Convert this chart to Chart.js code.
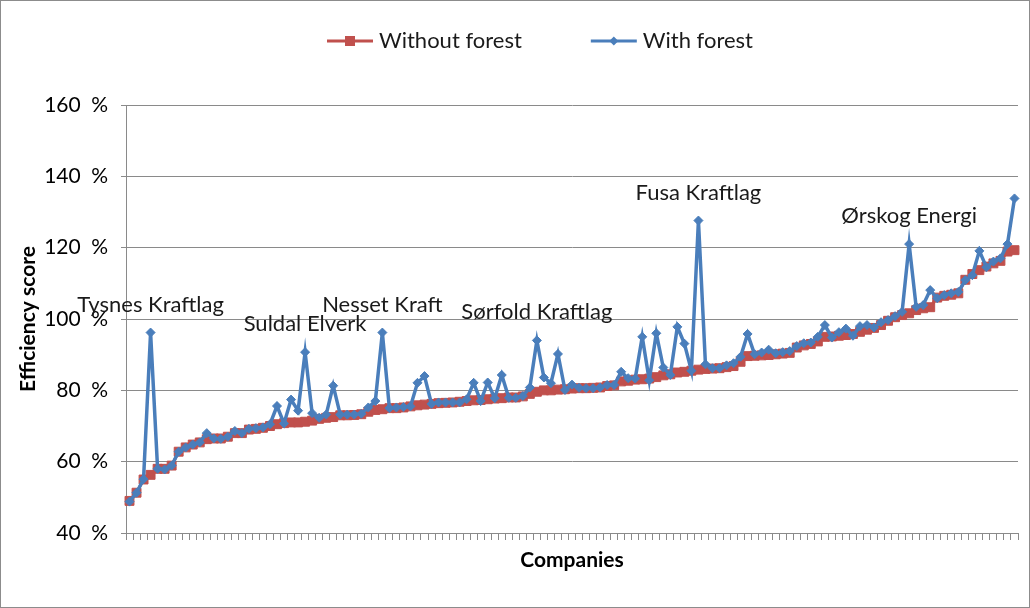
<!DOCTYPE html>
<html>
<head>
<meta charset="utf-8">
<script src="https://cdn.jsdelivr.net/npm/chart.js@4/dist/chart.umd.min.js"></script>
<style>
html,body{margin:0;padding:0;background:#fff;}
#wrap{width:1030px;height:608px;position:relative;}
</style>
</head>
<body>
<div id="wrap"><canvas id="c" width="1030" height="608"></canvas></div>
<script>
const categories = [1,2,3,4,5,6,7,8,9,10,11,12,13,14,15,16,17,18,19,20,21,22,23,24,25,26,27,28,29,30,31,32,33,34,35,36,37,38,39,40,41,42,43,44,45,46,47,48,49,50,51,52,53,54,55,56,57,58,59,60,61,62,63,64,65,66,67,68,69,70,71,72,73,74,75,76,77,78,79,80,81,82,83,84,85,86,87,88,89,90,91,92,93,94,95,96,97,98,99,100,101,102,103,104,105,106,107,108,109,110,111,112,113,114,115,116,117,118,119,120,121,122,123,124,125,126,127];

const withoutForest = [49,51.3,55,56.3,58,58,58.9,62.8,64,64.8,65.4,66.3,66.5,66.5,67,68,68,69,69.2,69.5,
70,70.5,70.8,71,71,71.2,71.5,72,72.3,72.5,73,73,73.1,73.3,74,74.5,74.7,75,75,75.2,
75.5,75.8,76,76.2,76.4,76.5,76.6,76.8,77,77.2,77.3,77.5,77.7,77.8,78,78,78.3,79,79.6,80,
80,80.2,80.3,80.5,80.6,80.6,80.7,80.8,81.2,81.4,82.5,82.7,83,83.1,83.3,83.7,84.2,84.5,85,85.2,
85.5,85.8,86,86.1,86.2,86.5,86.8,88,89.6,89.7,89.8,89.9,90.1,90.3,90.5,92,92.6,93,93.7,95,
95.1,95.3,95.5,95.8,96.4,97,97.5,98.3,99.5,100.5,101.1,101.6,102.5,103,103.3,106,106.5,106.8,107.2,111,
112.6,113.7,114.7,115.6,116.3,118.9,119.3];

const withForest = [48.8,51.3,55.1,96.2,58,57.8,58.9,62.8,64,64.8,65.4,68,66.5,66.4,67,68.6,68,69.2,69.4,69.6,
70.5,75.6,70.7,77.4,74.3,90.7,73.6,72.3,73.2,81.3,73.2,73.2,73.2,73.4,75.2,77,96.2,75,75.2,75.3,
75.5,82.1,84,76.2,76.6,76.6,76.6,76.6,77.5,82.1,77,82.2,77.8,84.3,77.9,77.9,78.4,80.8,94,83.6,
82,90.2,80.1,81.6,80.7,80.6,80.6,80.8,81.5,81.5,85.2,83.4,83.3,95,82.8,96,86.4,84.3,97.8,93.1,
85.5,127.6,87.3,86.2,86.2,87,87.6,89.4,95.8,90.1,90.6,91.4,90.4,90.7,91,92.4,93.2,93.4,95,98.3,
94.8,96.3,97.3,95.3,98,98.3,97.6,99.1,99.7,100.8,102,121,103.4,103.9,108.1,105.8,106.7,107.2,107.6,110.9,
112.3,119.1,114.5,116.1,117,121,133.8];

const yTickValues = [40,60,80,100,120,140,160];
const annotationIndex = [3,25,36,58,81,111];
const annotationText = ["Tysnes Kraftlag","Suldal Elverk","Nesset Kraft","Sørfold Kraftlag","Fusa Kraftlag","Ørskog Energi"];

const RED = '#C0504D';
const BLUE = '#4A7EBB';
const GRID = '#8A8A8A';
const FONT = 'Lato, "Open Sans", sans-serif';

const decor = {
  id: 'decor',
  beforeDraw(chart) {
    const ctx = chart.ctx;
    ctx.save();
    ctx.fillStyle = '#fff';
    ctx.fillRect(0, 0, chart.width, chart.height);
    ctx.strokeStyle = '#8c8c8c';
    ctx.lineWidth = 1;
    ctx.strokeRect(0.5, 0.5, chart.width - 1, chart.height - 1);
    ctx.restore();
  },
  afterDatasetsDraw(chart) {
    const ctx = chart.ctx;
    const xs = chart.scales.x, ys = chart.scales.y;
    ctx.save();
    ctx.font = '22px ' + FONT;
    ctx.fillStyle = '#1a1a1a';
    ctx.textAlign = 'center';
    ctx.textBaseline = 'middle';
    annotationIndex.forEach((idx, k) => {
      const x = xs.getPixelForValue(idx);
      const y = ys.getPixelForValue(withForest[idx]);
      ctx.fillText(annotationText[k], x, y - 28);
    });
    ctx.restore();
  },
  afterDraw(chart) {
    const ctx = chart.ctx;
    ctx.save();
    ctx.font = '22px ' + FONT;
    ctx.textBaseline = 'middle';
    ctx.textAlign = 'left';
    const ds = chart.data.datasets;
    const lineLen = 46, tgap = 6, gap = 69;
    const widths = ds.map(d => lineLen + tgap + ctx.measureText(d.label).width);
    const total = widths.reduce((a, b) => a + b, 0) + gap;
    let x = 540 - total / 2;
    const y = 41;
    ds.forEach((d, i) => {
      ctx.strokeStyle = d.borderColor;
      ctx.lineWidth = 3;
      ctx.beginPath();
      ctx.moveTo(x, y);
      ctx.lineTo(x + lineLen, y);
      ctx.stroke();
      const cx = x + lineLen / 2;
      ctx.fillStyle = d.borderColor;
      if (d.pointStyle === 'rect') {
        ctx.fillRect(cx - 5, y - 5, 10, 10);
      } else {
        ctx.beginPath();
        ctx.moveTo(cx, y - 4.5);
        ctx.lineTo(cx + 4.5, y);
        ctx.lineTo(cx, y + 4.5);
        ctx.lineTo(cx - 4.5, y);
        ctx.closePath();
        ctx.fill();
      }
      ctx.fillStyle = '#1a1a1a';
      ctx.fillText(d.label, x + lineLen + tgap, y);
      x += widths[i] + gap;
    });
    ctx.restore();
  }
};

new Chart(document.getElementById('c'), {
  type: 'line',
  data: {
    labels: categories,
    datasets: [
      {
        label: 'Without forest',
        data: withoutForest,
        borderColor: RED,
        backgroundColor: RED,
        pointBackgroundColor: RED,
        pointBorderColor: RED,
        borderWidth: 3,
        pointStyle: 'rect',
        pointRadius: 6.3,
        pointBorderWidth: 1,
        tension: 0,
        order: 2
      },
      {
        label: 'With forest',
        data: withForest,
        borderColor: BLUE,
        backgroundColor: BLUE,
        pointBackgroundColor: BLUE,
        pointBorderColor: BLUE,
        borderWidth: 3.5,
        pointStyle: 'rectRot',
        pointRadius: 4.5,
        pointBorderWidth: 1,
        tension: 0,
        order: 1
      }
    ]
  },
  options: {
    responsive: false,
    animation: false,
    devicePixelRatio: 1,
    layout: { padding: { left: 16, right: 12, top: 105, bottom: 30 } },
    plugins: {
      legend: { display: false },
      tooltip: { enabled: false }
    },
    scales: {
      x: {
        type: 'category',
        offset: true,
        grid: { offset: true, drawOnChartArea: false, drawTicks: true, tickLength: 7, color: GRID, lineWidth: 1 },
        border: { color: GRID, width: 1 },
        ticks: { display: true, autoSkip: false, maxRotation: 0, callback: () => '' },
        title: { display: true, text: 'Companies', color: '#000', font: { family: FONT, size: 21, weight: 'bold' }, padding: { top: 0, bottom: 5.4 } },
        afterFit: s => { s.height = 45; }
      },
      y: {
        min: 40, max: 160,
        afterBuildTicks: s => { s.ticks = yTickValues.map(v => ({ value: v })); },
        ticks: { color: '#000', font: { family: FONT, size: 21 }, padding: 13, callback: v => v + '\u2002%' },
        grid: { color: GRID, lineWidth: 1, tickLength: 5 },
        border: { color: GRID, width: 1 },
        title: { display: true, text: 'Efficiency score', color: '#000', font: { family: FONT, size: 21, weight: 'bold' }, padding: { top: 0, bottom: 0 } },
        afterFit: s => { s.width = 110; }
      }
    }
  },
  plugins: [decor]
});
</script>
</body>
</html>
